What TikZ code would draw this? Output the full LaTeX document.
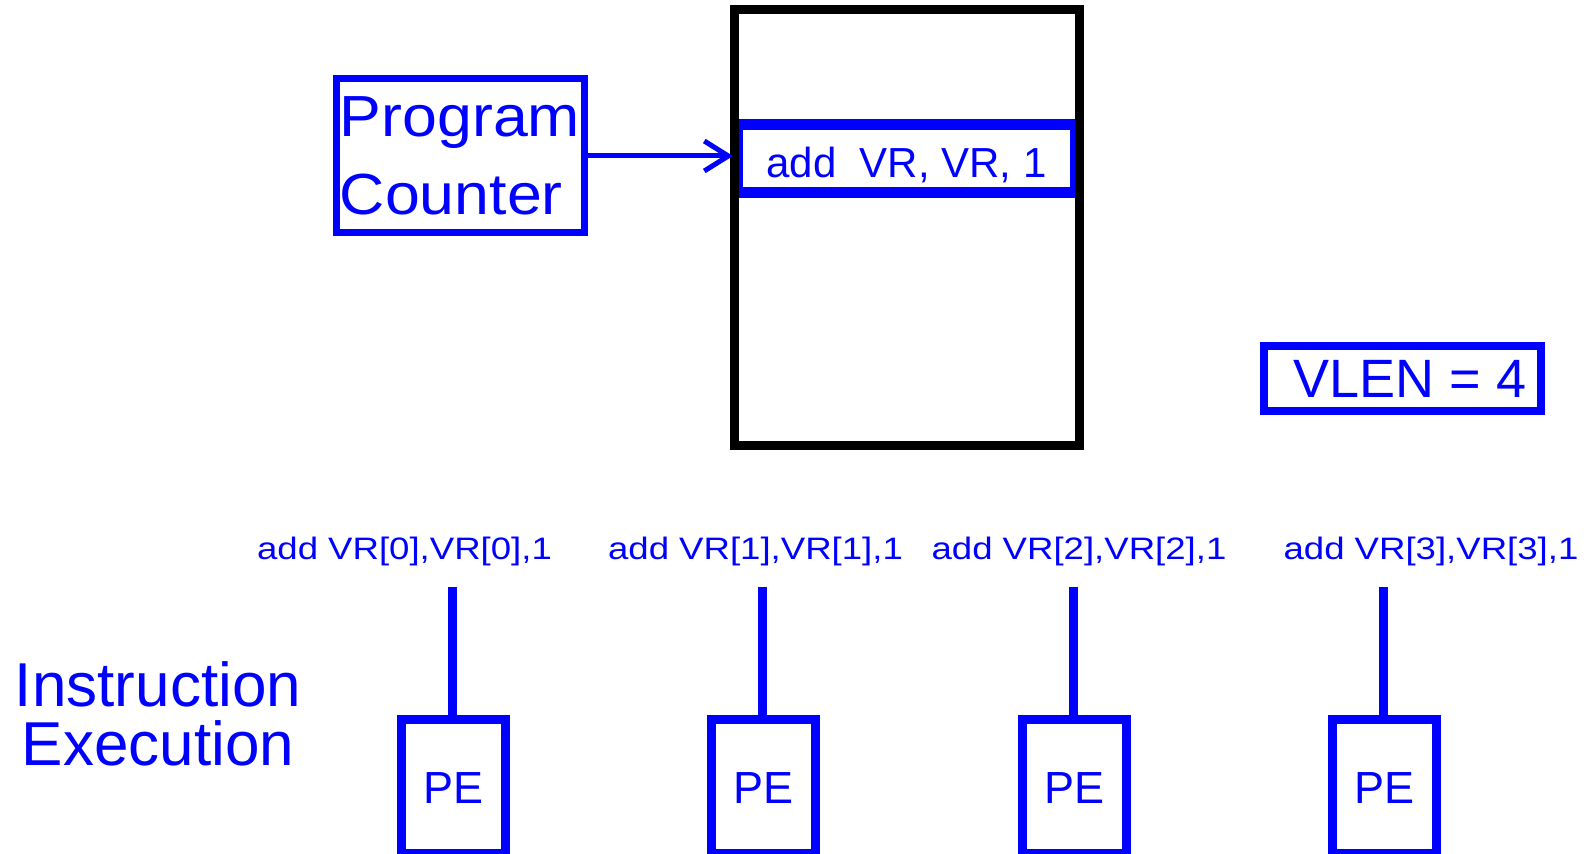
\documentclass[tikz,border=0pt]{standalone}
\usepackage{fontspec}
\setmainfont{Liberation Sans}
\newfontfamily\labelfont[FakeStretch=1.18]{Liberation Sans}
\newfontfamily\pcfont[FakeStretch=1.08]{Liberation Sans}
\usetikzlibrary{arrows.meta}
\definecolor{peblue}{RGB}{0,0,255}

\begin{document}
\begin{tikzpicture}[x=0.5pt,y=-0.5pt]
                \newcommand{\pewidth}{52pt}
                \newcommand{\peheight}{66.75pt}
                \newcommand{\pey}{786.25}
                \newcommand{\lbly}{560}
                \newcommand{\wiretop}{587}

                \tikzset{
                    bluebox/.style={draw=peblue, text=peblue, inner sep=0pt},
                    pebox/.style={bluebox, line width=4.5pt, minimum width=\pewidth, minimum height=\peheight,
                        text height=17pt, text depth=0pt, font=\fontsize{22.5}{27}\selectfont},
                    lbl/.style={text=peblue, anchor=base, inner sep=0pt, font=\labelfont\fontsize{15.5}{18}\selectfont},
                    wire/.style={peblue, line width=4.5pt}
                }

                \useasboundingbox (0,0) rectangle (1594,854);

                % Draw instruction slot, then the memory box over it
                \node[bluebox, line width=5.5pt, minimum width=169pt, minimum height=33.75pt,
                    text height=19.25pt, text depth=0pt, font=\fontsize{21}{25}\selectfont]
                    (slot) at (906.5,158.75) {add~~VR, VR, 1};
                \node[draw=black, line width=4.5pt, minimum width=172.5pt, minimum height=218pt] (mem) at (906.5,228) {};

                % Draw program counter
                \node[bluebox, line width=3.5pt, minimum width=124pt, minimum height=77pt, align=left,
                    font=\pcfont\fontsize{29}{39}\selectfont] (pc) at (460,156) {Program\\Counter};
                \draw[peblue, line width=2.5pt, -{Straight Barb[length=12pt, width=15pt]}]
                    (pc.east) -- ([xshift=1.75pt]pc.east -| mem.west);

                % Draw vector length
                \node[bluebox, line width=4pt, minimum width=138.5pt, minimum height=32.5pt,
                    font=\fontsize{27}{32}\selectfont] (vlen) at (1402.5,378.5) {~VLEN = 4};

                \node[text=peblue, align=center, inner sep=0pt, font=\fontsize{31}{29.5}\selectfont] (exec) at (158,714) {Instruction\\Execution};

                % Draw PEs with their instructions
                \foreach \i/\xpe/\xlbl in {0/453.5/404.5, 1/763.8/755.5, 2/1074.1/1079, 3/1384.4/1431} {
                    \node[lbl] (lbl\i) at (\xlbl,\lbly) {add VR[\i],VR[\i],1};
                    \node[pebox] (pe\i) at (\xpe,\pey) {PE};
                    \coordinate (top\i) at (\xpe-1,\wiretop);
                    \draw[wire] (top\i) -- (top\i |- pe\i.north);
                }
            \end{tikzpicture}
\end{document}
